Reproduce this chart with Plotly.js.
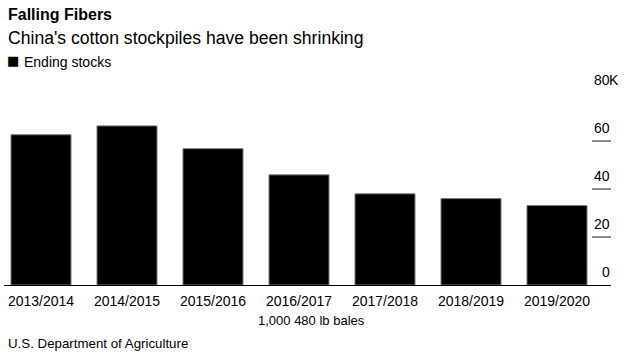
<!DOCTYPE html>
<html>
<head>
<meta charset="utf-8">
<script src="https://cdn.plot.ly/plotly-3.0.1.min.js"></script>
<style>html,body{margin:0;padding:0;background:#fff;}#chart{width:627px;height:356px;}</style>
</head>
<body>
<div id="chart"></div>
<script>
// ---- data ----
const categories = ['2013/2014', '2014/2015', '2015/2016', '2016/2017', '2017/2018', '2018/2019', '2019/2020'];
const endingStocks = [62600, 66300, 56800, 45900, 38000, 36000, 33100];
const seriesName = 'Ending stocks';
const yTickVals = [0, 20000, 40000, 60000, 80000];
const yTickText = ['0', '20', '40', '60', '80'];
const yTickSuffix = ['', '', '', '', 'K'];
const titleText = 'Falling Fibers';
const subtitleText = "China's cotton stockpiles have been shrinking";
const xTitleText = '1,000 480 lb bales';
const sourceText = 'U.S. Department of Agriculture';

// ---- layout geometry ----
const W = 627, H = 356;
const M = {l: 4, r: 16, t: 93, b: 71};
const plotW = W - M.l - M.r, plotH = H - M.t - M.b;
const px = x => (x - M.l) / plotW;
const py = y => (H - M.b - y) / plotH;
const FONT = '"Liberation Sans", Arial, sans-serif';

const trace = {
  type: 'bar',
  x: categories,
  y: endingStocks,
  name: seriesName,
  marker: {color: '#000000', line: {color: '#7a7a7a', width: 1}},
  hoverinfo: 'x+y',
  showlegend: false
};

const annotations = [
  {text: '<b>' + titleText + '</b>', x: px(6), y: py(14.5), xanchor: 'left', yanchor: 'middle',
   font: {size: 16, color: '#000', family: FONT}},
  {text: subtitleText, x: px(6), y: py(38), xanchor: 'left', yanchor: 'middle',
   font: {size: 17.6, color: '#000', family: FONT}},
  {text: '■', x: px(5), y: py(60.5), xanchor: 'left', yanchor: 'middle',
   font: {size: 13, color: '#000', family: '"DejaVu Sans", sans-serif'}},
  {text: seriesName, x: px(22), y: py(62), xanchor: 'left', yanchor: 'middle',
   font: {size: 14, color: '#000', family: FONT}},
  {text: xTitleText, x: px(311), y: py(320.5), xanchor: 'center', yanchor: 'middle',
   font: {size: 13, color: '#000', family: FONT}},
  {text: sourceText, x: px(6), y: py(343.5), xanchor: 'left', yanchor: 'middle',
   font: {size: 13.3, color: '#000', family: FONT}}
];
yTickVals.forEach((v, i) => {
  annotations.push({text: yTickText[i], xref: 'paper', yref: 'y', x: 1, y: v, xanchor: 'right', yanchor: 'bottom',
    yshift: 3, xshift: 1, showarrow: false, font: {size: 14, color: '#000', family: FONT}});
  if (yTickSuffix[i]) {
    annotations.push({text: yTickSuffix[i], xref: 'paper', yref: 'y', x: 1, y: v, xanchor: 'left', yanchor: 'bottom',
      yshift: 3, xshift: -4, showarrow: false, font: {size: 14, color: '#000', family: FONT}});
  }
});
annotations.forEach(a => { if (!a.xref) { a.xref = 'paper'; a.yref = 'paper'; a.showarrow = false; } });

const layout = {
  width: W, height: H,
  margin: {l: M.l, r: M.r, t: M.t, b: M.b, pad: 0},
  paper_bgcolor: '#fff', plot_bgcolor: '#fff',
  bargap: 0.302,
  showlegend: false,
  font: {family: FONT, color: '#000'},
  xaxis: {
    type: 'category', range: [-(41 - M.l) / 86, (W - M.r - 41) / 86],
    showline: true, linecolor: '#000', linewidth: 1, ticks: '', showgrid: false, zeroline: false,
    ticklabelstandoff: 3,
    tickfont: {size: 14, color: '#000', family: FONT}, fixedrange: true
  },
  yaxis: {
    range: [0, 80000], side: 'right', showgrid: false, zeroline: false, showline: false,
    ticks: 'inside', ticklen: 19, tickcolor: '#8c8c8c', tickwidth: 1.6,
    tickmode: 'array', tickvals: yTickVals.slice(1), showticklabels: false, fixedrange: true
  },
  annotations: annotations
};

Plotly.newPlot('chart', [trace], layout, {displayModeBar: false, staticPlot: true});
</script>
</body>
</html>
